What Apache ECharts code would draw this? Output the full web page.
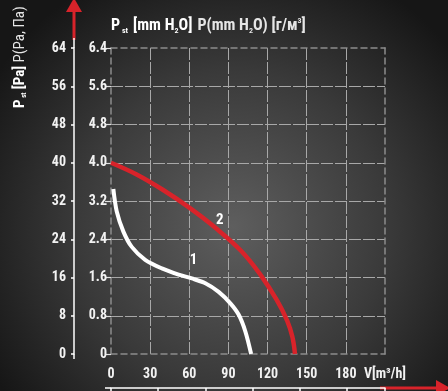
<!DOCTYPE html>
<html>
<head>
<meta charset="utf-8">
<script src="https://cdn.jsdelivr.net/npm/echarts@6/dist/echarts.min.js"></script>
<style>
  html, body { margin: 0; padding: 0; background: #222; }
  #chart { width: 448px; height: 391px; }
</style>
</head>
<body>
<div id="chart"></div>
<script>
// Fan curves: static pressure vs. air flow
const flowCurve1 = [1.8, 4.4, 9.5, 15.9, 26.2, 39, 51.8, 62, 72.3, 82.5, 91.5, 97.9, 103, 107.4];
const pressCurve1 = [34.5, 29.8, 25.6, 22.4, 19.7, 17.9, 16.6, 15.8, 14.8, 13.0, 10.6, 8.2, 4.7, 0];

const flowCurve2 = [0, 20, 40, 60, 80, 100, 115, 127, 135, 139, 141];
const pressCurve2 = [40, 37.5, 34.3, 30.6, 26.4, 21.5, 16.4, 11.3, 7.0, 3.6, 0];

const flowTicks = [0, 30, 60, 90, 120, 150, 180];
const flowUnit = 'V[m³/h]';
const paTicks = [0, 8, 16, 24, 32, 40, 48, 56, 64];
const mmTicks = [0, 0.8, 1.6, 2.4, 3.2, 4.0, 4.8, 5.6, 6.4];

const FONT = '"Liberation Sans Narrow", "Roboto Condensed", "Open Sans", sans-serif';
const RED = '#d8232a';

const zip = (xs, ys) => xs.map((x, i) => [x, ys[i]]);

const chart = echarts.init(document.getElementById('chart'), null, { renderer: 'canvas' });

const labelText = { color: '#f2f2f2', fontFamily: FONT, fontWeight: 'bold', fontSize: 14 };
const borderLine = { color: '#8c8c8c', width: 1.5, type: [6, 4] };
const gridLine = { color: '#a8a8a8', width: 1, type: [12, 2] };

chart.setOption({
  animation: false,
  backgroundColor: {
    type: 'radial', x: 0.52, y: 0.58, r: 0.72,
    colorStops: [
      { offset: 0, color: '#5e5e5e' },
      { offset: 0.55, color: '#3a3a3a' },
      { offset: 1, color: '#161616' }
    ]
  },
  title: {
    left: 106, top: 12,
    text: '{b|P}{bs| st} {b|[mm H}{bs|2}{b|O]} {n|P(mm H}{ns|2}{n|O) [г/м}{sup|3}{n|]}',
    textStyle: {
      rich: {
        b: { color: '#ffffff', fontFamily: FONT, fontWeight: 'bold', fontSize: 16 },
        bs: { color: '#ffffff', fontFamily: FONT, fontWeight: 'bold', fontSize: 8, verticalAlign: 'bottom', padding: [10, 0, 0, 0] },
        n: { color: '#e6e6e6', fontFamily: FONT, fontSize: 16 },
        ns: { color: '#e6e6e6', fontFamily: FONT, fontSize: 8, verticalAlign: 'bottom', padding: [10, 0, 0, 0] },
        sup: { color: '#e6e6e6', fontFamily: FONT, fontSize: 8, verticalAlign: 'top' }
      }
    }
  },
  grid: { left: 111, right: 63, top: 48, bottom: 37, containLabel: false, outerBoundsMode: 'none' },
  xAxis: [
    {
      type: 'value', min: 0, max: 210, interval: 30, position: 'bottom',
      axisLine: { show: true, onZero: false, lineStyle: borderLine },
      axisTick: { show: false },
      axisLabel: Object.assign({}, labelText, {
        margin: 13,
        formatter: v => (v === 210 ? flowUnit : (flowTicks.includes(v) ? String(v) : ''))
      }),
      splitLine: { show: true, showMinLine: false, showMaxLine: false, lineStyle: gridLine }
    },
    {
      // top frame edge
      type: 'value', min: 0, max: 210, interval: 30, position: 'top',
      axisLine: { show: true, onZero: false, lineStyle: borderLine },
      axisTick: { show: false }, axisLabel: { show: false }, splitLine: { show: false }
    },
    {
      // lower decorative scale line
      type: 'value', min: 0, max: 5.8, interval: 1, position: 'bottom', offset: 34,
      axisLine: { show: true, onZero: false, lineStyle: { color: '#ffffff', width: 1.5 } },
      axisTick: { show: true, length: 3, lineStyle: { color: '#ffffff', width: 1.5 } },
      axisLabel: { show: false }, splitLine: { show: false }
    }
  ],
  yAxis: [
    {
      // mm H2O scale on the frame edge
      type: 'value', min: 0, max: 6.4, interval: 0.8, position: 'left',
      axisLine: { show: true, onZero: false, lineStyle: borderLine },
      axisTick: { show: true, length: 6, lineStyle: { color: '#e0e0e0', width: 1.2 } },
      axisLabel: Object.assign({}, labelText, {
        margin: 4,
        formatter: v => (v === 0 ? '0' : v.toFixed(1))
      }),
      splitLine: { show: true, showMinLine: false, showMaxLine: false, lineStyle: gridLine }
    },
    {
      // Pa scale on the outer white axis
      type: 'value', min: 0, max: 64, interval: 8, position: 'left', offset: 37,
      axisLine: { show: true, onZero: false, lineStyle: { color: '#ffffff', width: 1.5 } },
      axisTick: { show: true, length: 3, lineStyle: { color: '#ffffff', width: 1.5 } },
      axisLabel: Object.assign({}, labelText, { margin: 8 }),
      splitLine: { show: false }
    },
    {
      // right frame edge
      type: 'value', min: 0, max: 64, interval: 8, position: 'right',
      axisLine: { show: true, onZero: false, lineStyle: borderLine },
      axisTick: { show: false }, axisLabel: { show: false }, splitLine: { show: false }
    }
  ],
  series: [
    {
      name: '1', type: 'line', xAxisIndex: 0, yAxisIndex: 1,
      data: zip(flowCurve1, pressCurve1),
      smooth: 0.3, symbol: 'none',
      lineStyle: { color: '#ffffff', width: 4, cap: 'butt' },
      markPoint: {
        symbol: 'circle', symbolSize: 0,
        label: { show: true, position: 'inside', formatter: '1', color: '#ffffff', fontFamily: FONT, fontWeight: 'bold', fontSize: 15 },
        data: [{ coord: [63.3, 19.7] }]
      }
    },
    {
      name: '2', type: 'line', xAxisIndex: 0, yAxisIndex: 1,
      data: zip(flowCurve2, pressCurve2),
      smooth: 0.4, symbol: 'none',
      lineStyle: { color: RED, width: 4.5, cap: 'butt' },
      markPoint: {
        symbol: 'circle', symbolSize: 0,
        label: { show: true, position: 'inside', formatter: '2', color: '#ffffff', fontFamily: FONT, fontWeight: 'bold', fontSize: 15 },
        data: [{ coord: [83.3, 27.9] }]
      }
    }
  ],
  graphic: [
    // vertical axis arrow
    { type: 'line', shape: { x1: 74, y1: 40, x2: 74, y2: 10 }, style: { stroke: RED, lineWidth: 3 } },
    { type: 'polygon', shape: { points: [[66, 12], [82, 12], [74, -2]] }, style: { fill: RED } },
    { type: 'line', shape: { x1: 74, y1: 38, x2: 74, y2: 48 }, style: { stroke: '#ffffff', lineWidth: 1.5 } },
    { type: 'line', shape: { x1: 74, y1: 354, x2: 74, y2: 359 }, style: { stroke: '#ffffff', lineWidth: 1.5 } },
    // horizontal axis arrow
    { type: 'line', shape: { x1: 105, y1: 388, x2: 111, y2: 388 }, style: { stroke: '#ffffff', lineWidth: 1.5 } },
    { type: 'line', shape: { x1: 380, y1: 388, x2: 438, y2: 388 }, style: { stroke: RED, lineWidth: 3 } },
    { type: 'polygon', shape: { points: [[436, 380], [436, 396], [450, 388]] }, style: { fill: RED } },
    // rotated pressure title
    {
      type: 'text', x: 12, y: 108, rotation: Math.PI / 2,
      style: {
        text: '{b|P}{bs| st} {b|[Pa]} {n|P(Pa, Па)}',
        rich: {
          b: { fill: '#ffffff', fontFamily: FONT, fontWeight: 'bold', fontSize: 15 },
          bs: { fill: '#ffffff', fontFamily: FONT, fontWeight: 'bold', fontSize: 7, verticalAlign: 'bottom', padding: [9, 0, 0, 0] },
          n: { fill: '#e6e6e6', fontFamily: FONT, fontSize: 15 }
        }
      }
    }
  ]
});
</script>
</body>
</html>
